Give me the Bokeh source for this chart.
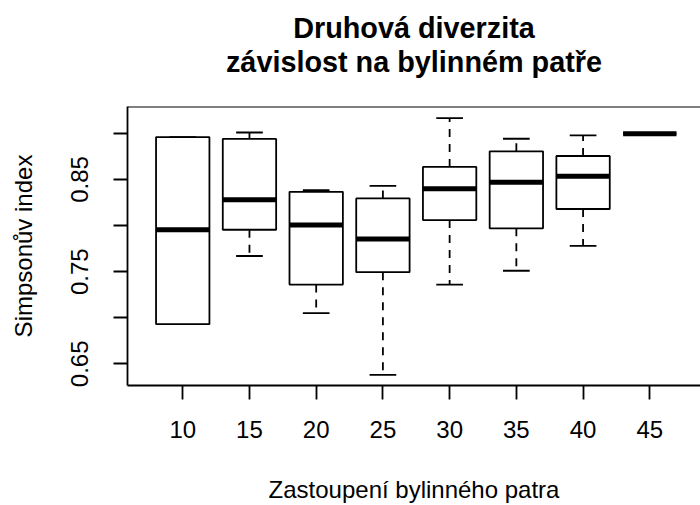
from bokeh.plotting import figure
from bokeh.models import Range1d, FixedTicker, Span, Title, ColumnDataSource
from bokeh.embed import file_html
from bokeh.resources import INLINE

# ---- data ----
categories = ["10", "15", "20", "25", "30", "35", "40", "45"]
whisker_lo = [0.693, 0.767, 0.705, 0.638, 0.736, 0.751, 0.778, 0.8997]
q1         = [0.693, 0.7955, 0.736, 0.7495, 0.806, 0.797, 0.818, 0.8997]
median     = [0.7955, 0.828, 0.8006, 0.7855, 0.840, 0.847, 0.8536, 0.8997]
q3         = [0.896, 0.894, 0.8366, 0.8295, 0.8636, 0.8806, 0.8755, 0.8997]
whisker_hi = [0.896, 0.901, 0.8384, 0.8431, 0.9166, 0.8942, 0.8979, 0.8997]

y_ticks = [0.65, 0.70, 0.75, 0.80, 0.85, 0.90]
y_tick_labels = ["0.65", "", "0.75", "", "0.85", ""]

title_line1 = "Druhová diverzita"
title_line2 = "závislost na bylinném patře"
x_title = "Zastoupení bylinného patra"
y_title = "Simpsonův index"

# ---- layout constants ----
FONT = "Liberation Sans"
BOX_HALF = 0.4
CAP_HALF = 0.2
x_lo, x_hi = 0.172, 8.76
y_lo, y_hi = 0.6265, 0.9292

pos = [i + 1 for i in range(len(categories))]
src = ColumnDataSource(dict(
    x=pos,
    left=[p - BOX_HALF for p in pos],
    right=[p + BOX_HALF for p in pos],
    cl=[p - CAP_HALF for p in pos],
    cr=[p + CAP_HALF for p in pos],
    wlo=whisker_lo, q1=q1, med=median, q3=q3, whi=whisker_hi,
))

p = figure(width=700, height=505, output_backend="svg", toolbar_location=None,
           x_range=Range1d(x_lo, x_hi), y_range=Range1d(y_lo, y_hi),
           min_border_left=127, min_border_right=0, min_border_top=106,
           min_border_bottom=119)
p.background_fill_color = "white"
p.border_fill_color = "white"
p.outline_line_color = None
p.xgrid.visible = False
p.ygrid.visible = False

LC = "black"
LW = 1.8

# whiskers (dashed)
p.segment(x0="x", y0="q3", x1="x", y1="whi", source=src, line_color=LC,
          line_width=LW, line_dash="8 7")
p.segment(x0="x", y0="q1", x1="x", y1="wlo", source=src, line_color=LC,
          line_width=LW, line_dash="8 7")
# staples
p.segment(x0="cl", y0="whi", x1="cr", y1="whi", source=src, line_color=LC, line_width=LW)
p.segment(x0="cl", y0="wlo", x1="cr", y1="wlo", source=src, line_color=LC, line_width=LW)
# boxes
p.quad(left="left", right="right", bottom="q1", top="q3", source=src,
       fill_color="white", line_color=LC, line_width=LW)
# medians
p.segment(x0="left", y0="med", x1="right", y1="med", source=src, line_color="black",
          line_width=5, line_cap="butt")

# top frame line
p.add_layout(Span(location=y_hi, dimension="width", line_color=LC, line_width=LW))

# axes
for ax in (p.xaxis[0], p.yaxis[0]):
    ax.axis_line_color = LC
    ax.axis_line_width = LW
    ax.major_tick_line_color = LC
    ax.major_tick_line_width = LW
    ax.major_tick_out = 14
    ax.major_tick_in = 0
    ax.minor_tick_line_color = None
    ax.major_label_text_font = FONT
    ax.major_label_text_font_size = "24px"
    ax.major_label_text_color = "black"
    ax.axis_label_text_font = FONT
    ax.axis_label_text_font_size = "24px"
    ax.axis_label_text_font_style = "normal"
    ax.axis_label_text_color = "black"

p.xaxis.ticker = FixedTicker(ticks=pos)
p.xaxis.major_label_overrides = {x: c for x, c in zip(pos, categories)}
p.xaxis.major_label_standoff = 21
p.xaxis.axis_label = x_title
p.xaxis.axis_label_standoff = 35

p.yaxis.ticker = FixedTicker(ticks=y_ticks)
p.yaxis.major_label_overrides = {t: l for t, l in zip(y_ticks, y_tick_labels)}
p.yaxis.major_label_orientation = "vertical"
p.yaxis.major_label_standoff = 25
p.yaxis.axis_label = y_title
p.yaxis.axis_label_standoff = 32

# title: an invisible spacer next to the frame, then line 2, then line 1
p.add_layout(Title(text=" ", text_font_size="1px", standoff=26), "above")
for txt in (title_line2, title_line1):
    p.add_layout(Title(text=txt, align="center", text_font=FONT,
                       text_font_size="28.8px", text_font_style="bold",
                       text_color="black", standoff=0), "above")

open("out.html", "w").write(file_html(p, INLINE))
